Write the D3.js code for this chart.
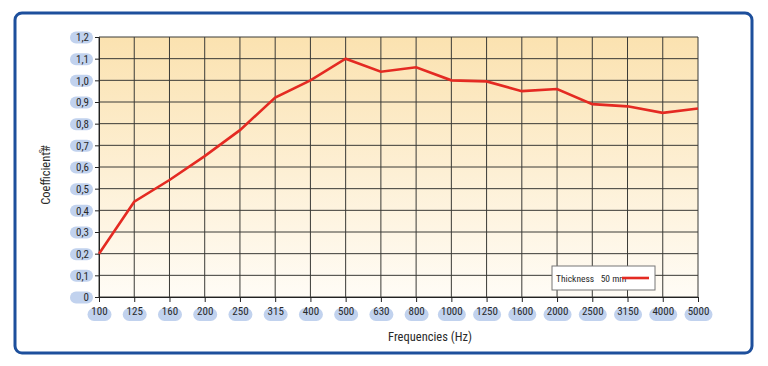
<!DOCTYPE html>
<html><head><meta charset="utf-8">
<script src="https://cdn.jsdelivr.net/npm/d3@7"></script>
<style>
body{margin:0;background:#fff;}
text{font-family:"Liberation Sans Narrow","Roboto Condensed","Roboto","Liberation Sans",sans-serif;}
</style></head>
<body><svg id="c" width="768" height="366"></svg>
<script>
const categories = ["100","125","160","200","250","315","400","500","630","800","1000","1250","1600","2000","2500","3150","4000","5000"];
const values = [0.20,0.44,0.54,0.65,0.77,0.92,1.00,1.10,1.04,1.06,1.00,0.995,0.95,0.96,0.89,0.88,0.85,0.87];
const yTicks = [0,0.1,0.2,0.3,0.4,0.5,0.6,0.7,0.8,0.9,1.0,1.1,1.2];
const seriesName = "Thickness   50 mm";

const svg = d3.select("#c");
const m = {l:99, r:698, t:37, b:297};
// frame
svg.append("rect").attr("x",15).attr("y",13).attr("width",737).attr("height",340)
  .attr("rx",7).attr("fill","#fff").attr("stroke","#1d4f9c").attr("stroke-width",3);

const defs = svg.append("defs");
const g = defs.append("linearGradient").attr("id","bg").attr("x1",0).attr("x2",0).attr("y1",0).attr("y2",1);
g.append("stop").attr("offset","0%").attr("stop-color","#fbe2b0");
g.append("stop").attr("offset","100%").attr("stop-color","#fffcf6");

const x = d3.scalePoint().domain(categories).range([m.l, m.r]);
const y = d3.scaleLinear().domain([0,1.2]).range([m.b, m.t]);

svg.append("rect").attr("x",m.l).attr("y",m.t).attr("width",m.r-m.l).attr("height",m.b-m.t).attr("fill","url(#bg)");

// grid
svg.append("g").selectAll("line").data(yTicks).join("line")
  .attr("x1",m.l).attr("x2",m.r).attr("y1",d=>y(d)).attr("y2",d=>y(d))
  .attr("stroke","#3a3a36").attr("stroke-width",1);
svg.append("g").selectAll("line").data(categories).join("line")
  .attr("x1",d=>x(d)).attr("x2",d=>x(d)).attr("y1",m.t).attr("y2",m.b)
  .attr("stroke","#3a3a36").attr("stroke-width",1);

// axes
const fmt = d => d===0 ? "0" : d3.format(".1f")(d).replace(".",",");
const ya = svg.append("g").attr("transform",`translate(${m.l},0)`)
  .call(d3.axisLeft(y).tickValues(yTicks).tickSize(4).tickPadding(6).tickFormat(fmt));
ya.select(".domain").attr("stroke","#222");
ya.selectAll(".tick line").attr("stroke","#222");
ya.selectAll(".tick text").attr("font-size",11).attr("fill","#2a2a2a").attr("dy","0.35em");
ya.selectAll(".tick").insert("rect","text").attr("x",-29).attr("y",-6).attr("width",23).attr("height",12)
  .attr("rx",6).attr("fill","#c1d2ee");

const xa = svg.append("g").attr("transform",`translate(0,${m.b})`)
  .call(d3.axisBottom(x).tickSize(5).tickPadding(5));
xa.select(".domain").attr("stroke","#222");
xa.selectAll(".tick line").attr("stroke","#222");
xa.selectAll(".tick text").attr("font-size",11).attr("fill","#2a2a2a");
xa.selectAll(".tick").insert("rect","text").attr("x",d=>d.length>3?-14:-12).attr("y",11)
  .attr("width",d=>d.length>3?28:24).attr("height",13).attr("rx",6.5).attr("fill","#c1d2ee");

// line
svg.append("path").datum(values)
  .attr("d",d3.line().x((d,i)=>x(categories[i])).y(d=>y(d)))
  .attr("fill","none").attr("stroke","#e42a22").attr("stroke-width",2.6).attr("stroke-linejoin","miter");

// titles
svg.append("text").attr("x",430).attr("y",341).attr("text-anchor","middle")
  .attr("font-size",12.5).attr("fill","#2a2a2a").text("Frequencies (Hz)");
const yt = svg.append("text").attr("transform","translate(50,175) rotate(-90)").attr("text-anchor","middle")
  .attr("font-size",12.5).attr("fill","#2a2a2a");
yt.append("tspan").text("Coefficient#");
yt.append("tspan").attr("dy",-6).attr("dx",-8).attr("font-size",8).text("S");

// legend
const lg = svg.append("g");
lg.append("rect").attr("x",552).attr("y",266).attr("width",103).attr("height",24)
  .attr("fill","#fff").attr("stroke","#777").attr("stroke-width",1);
lg.append("text").attr("x",556).attr("y",281.5).attr("font-size",9.5).attr("fill","#2a2a2a")
  .attr("xml:space","preserve").text(seriesName);
lg.append("line").attr("x1",622).attr("x2",649).attr("y1",278).attr("y2",278)
  .attr("stroke","#e42a22").attr("stroke-width",2.6);
</script></body></html>
